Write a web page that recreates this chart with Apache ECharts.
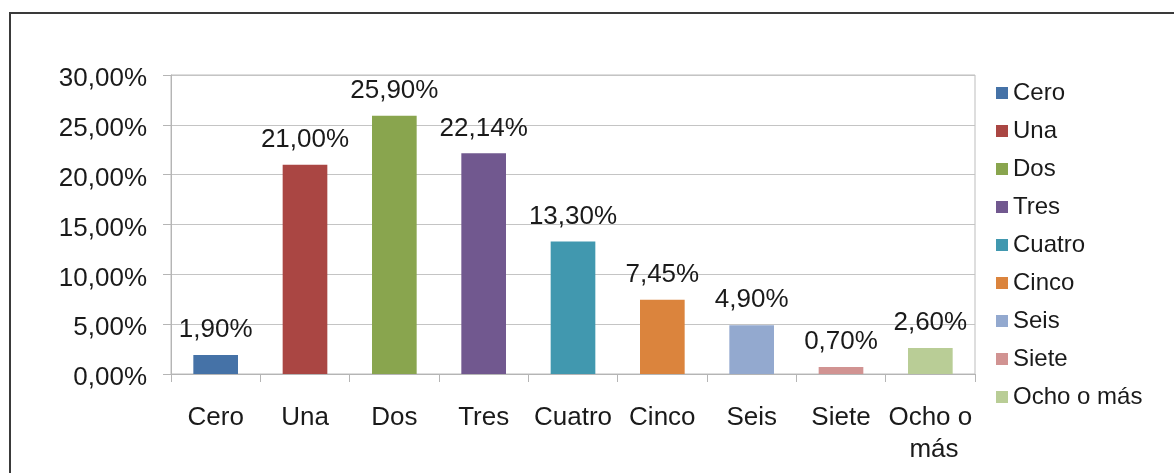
<!DOCTYPE html>
<html>
<head>
<meta charset="utf-8">
<style>
html,body{margin:0;padding:0;width:1174px;height:473px;overflow:hidden;background:#fff;}
#frame{position:absolute;left:9px;top:12px;width:1200px;height:520px;border:2px solid #3a3a3a;box-sizing:border-box;}
#chart{position:absolute;left:0;top:0;width:1174px;height:473px;}
</style>
<script src="https://cdn.jsdelivr.net/npm/echarts@6/dist/echarts.min.js"></script>
</head>
<body>
<div id="frame"></div>
<div id="chart"></div>
<script>
const categories = ['Cero','Una','Dos','Tres','Cuatro','Cinco','Seis','Siete','Ocho o más'];
const values = [1.90, 21.00, 25.90, 22.14, 13.30, 7.45, 4.90, 0.70, 2.60];
const colors = ['#4572A7','#AA4643','#89A54E','#71588F','#4198AF','#DB843D','#93A9CF','#D19392','#B9CD96'];
const yTicks = [0, 5, 10, 15, 20, 25, 30];

const fmt = v => Number(v).toFixed(2).replace('.', ',') + '%';
const FONT = '"Liberation Sans", Arial, sans-serif';

const series = categories.map((name, i) => ({
  name: name,
  type: 'bar',
  stack: 'all',
  barWidth: '50%',
  itemStyle: { color: colors[i] },
  label: {
    show: true, position: 'top', distance: 12,
    formatter: p => fmt(p.value),
    fontSize: 26, fontFamily: FONT, color: '#1a1a1a'
  },
  data: categories.map((c, j) => j === i ? values[i] : '-')
}));

const chart = echarts.init(document.getElementById('chart'), null, {renderer: 'canvas'});
chart.setOption({
  animation: false,
  color: colors,
  grid: { left: 171, right: 199, top: 75, bottom: 99, show: true, borderColor: '#bdbdbd', borderWidth: 1 },
  legend: {
    orient: 'vertical', left: 996, top: 81, padding: 0,
    icon: 'rect', itemWidth: 12, itemHeight: 12, itemGap: 14,
    textStyle: { fontSize: 24, fontFamily: FONT, color: '#1a1a1a', lineHeight: 24 },
    data: categories
  },
  xAxis: {
    type: 'category', data: categories,
    axisLine: { lineStyle: { color: '#b5b5b5', width: 1 } },
    axisTick: { show: true, length: 8, alignWithLabel: false, lineStyle: { color: '#b5b5b5' } },
    axisLabel: {
      interval: 0, margin: 28, fontSize: 26, fontFamily: FONT, color: '#1a1a1a',
      lineHeight: 32, width: 89, overflow: 'break'
    }
  },
  yAxis: {
    type: 'value', min: yTicks[0], max: yTicks[yTicks.length - 1], interval: 5,
    axisLine: { show: true, lineStyle: { color: '#b5b5b5', width: 1 } },
    axisTick: { show: true, length: 8, lineStyle: { color: '#b5b5b5' } },
    splitLine: { show: true, lineStyle: { color: '#c4c4c4', width: 1 } },
    axisLabel: {
      margin: 24, fontSize: 26, fontFamily: FONT, color: '#1a1a1a',
      formatter: v => '{a|' + fmt(v) + '}',
      rich: { a: { fontSize: 26, fontFamily: FONT, color: '#1a1a1a', padding: [8, 0, 0, 0] } }
    }
  },
  series: series
});
</script>
</body>
</html>
